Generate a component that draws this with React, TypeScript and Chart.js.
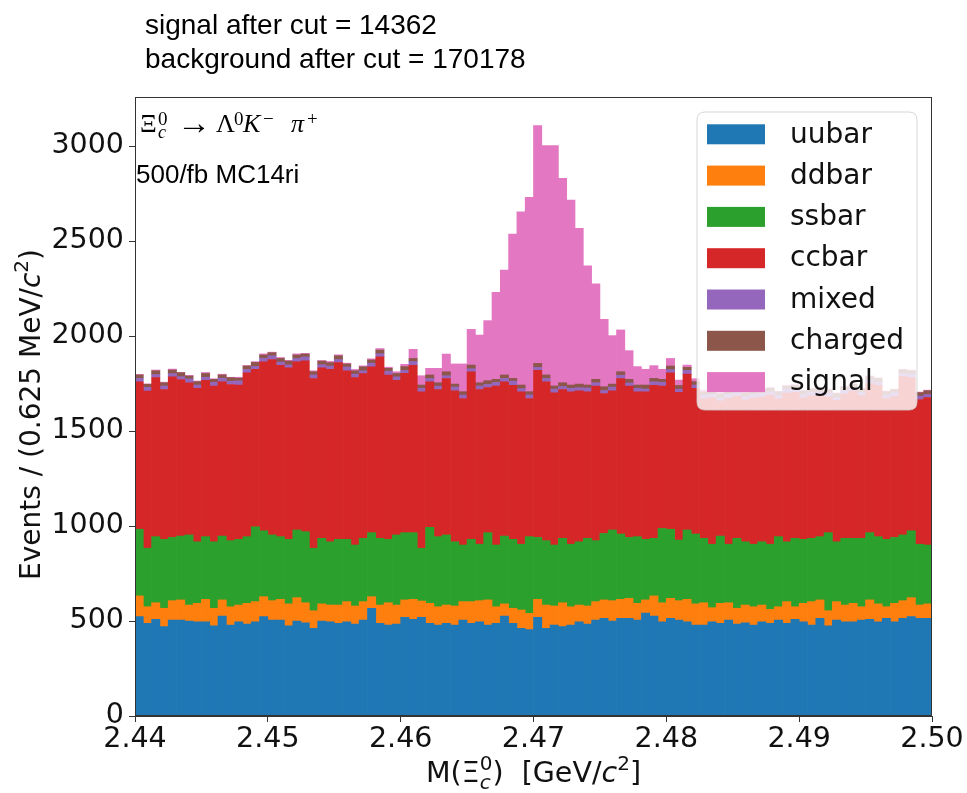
import { useEffect, useRef } from 'react';
import { Chart, registerables } from 'chart.js';

Chart.register(...registerables);

// Histogram binning: 96 bins of 0.625 MeV between 2.44 and 2.50 GeV
const BIN_LO = 2.44;
const BIN_HI = 2.5;
const N_BINS = 96;
const BIN_W = (BIN_HI - BIN_LO) / N_BINS;
const binCenters = Array.from({ length: N_BINS }, (_, i) => BIN_LO + (i + 0.5) * BIN_W);

const xTicks = [2.44, 2.45, 2.46, 2.47, 2.48, 2.49, 2.5];
const yTicks = [0, 500, 1000, 1500, 2000, 2500, 3000];
const Y_MAX = 3258;

const seriesNames = ['uubar', 'ddbar', 'ssbar', 'ccbar', 'mixed', 'charged', 'signal'];
const seriesColors = ['#1f77b4', '#ff7f0e', '#2ca02c', '#d62728', '#9467bd', '#8c564b', '#e377c2'];

const uubar = [
  523, 488, 509, 470, 505, 505, 500, 496, 496, 474,
  526, 479, 496, 484, 496, 523, 505, 505, 474, 500,
  491, 461, 500, 496, 488, 496, 484, 505, 567, 488,
  479, 484, 519, 509, 519, 488, 479, 488, 479, 505,
  488, 496, 479, 488, 526, 488, 461, 455, 519, 461,
  479, 470, 479, 496, 484, 505, 514, 500, 514, 514,
  505, 542, 526, 496, 514, 505, 496, 479, 479, 496,
  488, 505, 484, 491, 479, 496, 488, 505, 488, 509,
  496, 479, 514, 474, 505, 496, 496, 505, 509, 496,
  514, 496, 514, 523, 514, 514,
];
const ddbar = [
  109, 87, 87, 97, 102, 106, 84, 97, 118, 93,
  85, 96, 88, 109, 106, 105, 102, 109, 116, 123,
  105, 93, 90, 88, 96, 106, 95, 97, 61, 96,
  117, 100, 92, 105, 86, 105, 96, 96, 100, 97,
  114, 111, 132, 87, 64, 79, 97, 85, 95, 123,
  100, 126, 96, 88, 95, 97, 97, 107, 100, 105,
  88, 69, 106, 100, 105, 102, 118, 111, 117, 74,
  105, 91, 83, 93, 96, 88, 73, 70, 114, 66,
  97, 123, 97, 80, 97, 88, 97, 70, 102, 94,
  61, 97, 93, 100, 70, 76,
];
const ssbar = [
  351, 308, 348, 363, 333, 336, 369, 324, 330, 350,
  336, 348, 346, 351, 394, 347, 346, 330, 340, 356,
  374, 329, 345, 333, 346, 328, 321, 333, 337, 351,
  334, 369, 354, 351, 278, 400, 369, 369, 338, 298,
  328, 297, 354, 325, 357, 363, 346, 404, 326, 339,
  321, 339, 329, 333, 356, 321, 350, 372, 344, 321,
  351, 319, 303, 391, 364, 319, 365, 368, 339, 334,
  354, 308, 368, 333, 329, 333, 343, 369, 315, 360,
  337, 333, 333, 411, 315, 351, 342, 360, 354, 354,
  355, 347, 346, 352, 320, 310,
];
const ccbar = [
  776, 827, 837, 788, 845, 824, 800, 807, 823, 819,
  812, 822, 812, 862, 829, 889, 923, 902, 902, 885,
  899, 893, 897, 907, 930, 887, 881, 867, 873, 955,
  864, 814, 838, 881, 823, 766, 774, 823, 794, 771,
  881, 814, 764, 836, 812, 811, 802, 727, 880, 836,
  801, 783, 802, 794, 771, 813, 736, 732, 818, 796,
  762, 776, 806, 749, 823, 778, 820, 766, 734, 772,
  712, 768, 749, 747, 770, 762, 785, 726, 782, 769,
  745, 750, 746, 715, 744, 760, 775, 751, 785, 797,
  741, 741, 833, 806, 762, 776,
];
const mixed = [
  18, 20, 16, 19, 17, 15, 21, 18, 16, 20, 19, 17, 22, 18, 15, 19, 20, 17, 16, 18,
  21, 19, 17, 18, 16, 20, 18, 15, 19, 17, 21, 18, 16, 20, 19, 17, 18, 15, 21, 18,
  17, 19, 16, 20, 18, 22, 17, 19, 15, 18, 20, 16, 19, 17, 21, 18, 16, 20, 18, 17,
  19, 15, 18, 21, 17, 16, 20, 18, 19, 17, 15, 21, 18, 16, 20, 19, 17, 18, 22, 16,
  18, 19, 17, 20, 15, 18, 21, 17, 19, 16, 18, 20, 17, 19, 18, 16,
];
const charged = [
  18, 16, 20, 17, 19, 21, 15, 18, 20, 16, 17, 19, 14, 18, 21, 17, 16, 19, 20, 18,
  15, 17, 19, 18, 20, 16, 18, 21, 17, 19, 15, 18, 20, 16, 17, 19, 18, 21, 15, 18,
  19, 17, 20, 16, 18, 14, 19, 17, 21, 18, 16, 20, 17, 19, 15, 18, 20, 16, 18, 19,
  17, 21, 18, 15, 19, 20, 16, 18, 17, 19, 21, 15, 18, 20, 16, 17, 19, 18, 14, 20,
  18, 17, 19, 16, 21, 18, 15, 19, 17, 20, 18, 16, 19, 17, 18, 20,
];
const signal = [
  3, 2, 4, 3, 5, 2, 4, 3, 5, 3,
  4, 2, 5, 3, 4, 6, 3, 5, 4, 6,
  4, 5, 3, 6, 5, 4, 7, 5, 6, 8,
  6, 9, 12, 48, 49, 35, 76, 93, 106, 146,
  188, 251, 316, 458, 552, 760, 912, 1023, 1251, 1207,
  1265, 1076, 974, 820, 628, 502, 355, 255, 220, 151,
  97, 83, 67, 53, 40, 28, 12, 15, 10, 8,
  7, 6, 5, 6, 4, 5, 4, 3, 5, 4,
  3, 4, 3, 4, 3, 4, 3, 3, 4, 3,
  3, 3, 3, 3, 3, 3,
];
const seriesValues = [uubar, ddbar, ssbar, ccbar, mixed, charged, signal];

const infoLines = ['signal after cut = 14362', 'background after cut = 170178'];
const sampleLabel = '500/fb MC14ri';

type Piece = { t: string; font: string; dy?: number; stack?: boolean };

function layoutRun(ctx: CanvasRenderingContext2D, pieces: Piece[]) {
  let x = 0;
  let stackW = 0;
  const pos: number[] = [];
  for (const p of pieces) {
    ctx.font = p.font;
    const w = ctx.measureText(p.t).width;
    pos.push(x);
    if (p.stack) {
      stackW = w;
    } else {
      x += Math.max(w, stackW);
      stackW = 0;
    }
  }
  return { pos, width: x };
}

function drawRun(ctx: CanvasRenderingContext2D, pieces: Piece[], x0: number, y0: number, align: 'left' | 'center') {
  const { pos, width } = layoutRun(ctx, pieces);
  const start = align === 'center' ? x0 - width / 2 : x0;
  ctx.textAlign = 'left';
  ctx.textBaseline = 'alphabetic';
  pieces.forEach((p, i) => {
    ctx.font = p.font;
    ctx.fillText(p.t, start + pos[i], y0 + (p.dy || 0));
  });
}

const SANS = "'DejaVu Sans', sans-serif";
const SERIF = "'Liberation Serif', 'DejaVu Serif', serif";
const ARIAL = "'Liberation Sans', Arial, sans-serif";

// Decay formula glyphs, offsets relative to the upper-left corner of the axes
const formulaPieces = [
  { t: 'Ξ', font: `26px ${SERIF}`, dx: 5, dy: 35 },
  { t: 'c', font: `italic 18px ${SERIF}`, dx: 23, dy: 41 },
  { t: '0', font: `19px ${SERIF}`, dx: 23, dy: 28 },
  { t: '→', font: `34px ${SERIF}`, dx: 42, dy: 37 },
  { t: 'Λ', font: `26px ${SERIF}`, dx: 81, dy: 35 },
  { t: '0', font: `19px ${SERIF}`, dx: 99, dy: 28 },
  { t: 'K', font: `italic 26px ${SERIF}`, dx: 108, dy: 35 },
  { t: '−', font: `19px ${SERIF}`, dx: 128, dy: 28 },
  { t: 'π', font: `italic 26px ${SERIF}`, dx: 156, dy: 35 },
  { t: '+', font: `19px ${SERIF}`, dx: 172, dy: 28 },
];

const overlayPlugin = {
  id: 'overlay',
  afterDatasetsDraw(chart: any) {
    const ctx: CanvasRenderingContext2D = chart.ctx;
    const a = chart.chartArea;
    ctx.save();

    // axes frame
    ctx.strokeStyle = '#333';
    ctx.lineWidth = 1;
    ctx.strokeRect(Math.round(a.left) + 0.5, Math.round(a.top) + 0.5, Math.round(a.right - a.left) - 1, Math.round(a.bottom - a.top) - 1);

    ctx.fillStyle = '#000';
    ctx.textAlign = 'left';
    ctx.textBaseline = 'alphabetic';
    formulaPieces.forEach((p) => {
      ctx.font = p.font;
      ctx.fillText(p.t, a.left + p.dx, a.top + p.dy);
    });

    ctx.font = `26px ${ARIAL}`;
    ctx.fillText(sampleLabel, a.left + 1, a.top + 86);

    // legend
    const lx = 697, ly = 112, lw = 220, lh = 298, r = 8;
    ctx.beginPath();
    ctx.moveTo(lx + r, ly);
    ctx.lineTo(lx + lw - r, ly);
    ctx.quadraticCurveTo(lx + lw, ly, lx + lw, ly + r);
    ctx.lineTo(lx + lw, ly + lh - r);
    ctx.quadraticCurveTo(lx + lw, ly + lh, lx + lw - r, ly + lh);
    ctx.lineTo(lx + r, ly + lh);
    ctx.quadraticCurveTo(lx, ly + lh, lx, ly + lh - r);
    ctx.lineTo(lx, ly + r);
    ctx.quadraticCurveTo(lx, ly, lx + r, ly);
    ctx.closePath();
    ctx.fillStyle = 'rgba(255,255,255,0.8)';
    ctx.fill();
    ctx.strokeStyle = 'rgba(204,204,204,0.8)';
    ctx.lineWidth = 1;
    ctx.stroke();

    ctx.font = `28px ${SANS}`;
    ctx.textBaseline = 'middle';
    seriesNames.forEach((name, i) => {
      const cy = 134.3 + i * 41.3;
      ctx.fillStyle = seriesColors[i];
      ctx.fillRect(707, cy - 10, 58, 20);
      ctx.fillStyle = '#111';
      ctx.fillText(name, 790, cy + 1);
    });

    // axis titles
    ctx.fillStyle = '#111';
    const xTitle: Piece[] = [
      { t: 'M(', font: `28.5px ${SANS}` },
      { t: 'Ξ', font: `28.5px ${SANS}` },
      { t: 'c', font: `italic 20px ${SANS}`, dy: 7, stack: true },
      { t: '0', font: `20px ${SANS}`, dy: -12 },
      { t: ')  [GeV/', font: `28.5px ${SANS}` },
      { t: 'c', font: `italic 28.5px ${SANS}` },
      { t: '2', font: `20px ${SANS}`, dy: -12 },
      { t: ']', font: `28.5px ${SANS}` },
    ];
    drawRun(ctx, xTitle, (a.left + a.right) / 2, 782, 'center');

    const yTitle: Piece[] = [
      { t: 'Events / (0.625 MeV/', font: `28px ${SANS}` },
      { t: 'c', font: `italic 28px ${SANS}` },
      { t: '2', font: `20px ${SANS}`, dy: -12 },
      { t: ')', font: `28px ${SANS}` },
    ];
    ctx.save();
    ctx.translate(40, (a.top + a.bottom) / 2 + 8);
    ctx.rotate(-Math.PI / 2);
    drawRun(ctx, yTitle, 0, 0, 'center');
    ctx.restore();

    // info text above the plot
    ctx.fillStyle = '#000';
    ctx.font = `28px ${ARIAL}`;
    ctx.textAlign = 'left';
    ctx.textBaseline = 'alphabetic';
    infoLines.forEach((line, i) => ctx.fillText(line, 145, 34 + i * 34));

    ctx.restore();
  },
};

export default function App() {
  const canvasRef = useRef<HTMLCanvasElement | null>(null);

  useEffect(() => {
    const canvas = canvasRef.current;
    if (!canvas) return;
    const datasets = seriesNames.map((name, k) => ({
      label: name,
      data: binCenters.map((x, i) => ({ x, y: seriesValues[k][i] })),
      backgroundColor: seriesColors[k],
      borderWidth: 0,
      barPercentage: 1,
      categoryPercentage: 1,
    }));
    const tickFont = { family: 'DejaVu Sans', size: 28.5 };
    const chart = new Chart(canvas, {
      type: 'bar',
      data: { datasets } as any,
      plugins: [overlayPlugin],
      options: {
        responsive: false,
        animation: false,
        devicePixelRatio: 1,
        layout: { padding: { top: 97, right: 35, left: 0, bottom: 0 } },
        plugins: { legend: { display: false }, tooltip: { enabled: false }, title: { display: false } },
        scales: {
          x: {
            type: 'linear',
            min: BIN_LO,
            max: BIN_HI,
            stacked: true,
            offset: false,
            afterFit: (s: any) => { s.height = 77; },
            afterBuildTicks: (s: any) => { s.ticks = xTicks.map((v) => ({ value: v })); },
            ticks: {
              callback: (v: any) => Number(v).toFixed(2),
              font: tickFont,
              color: '#111',
              padding: 0,
              maxRotation: 0,
              autoSkip: false,
            },
            grid: { offset: false, drawOnChartArea: false, drawTicks: true, tickLength: 6, color: '#333', lineWidth: 1 },
            border: { display: true, color: '#333', width: 1 },
          },
          y: {
            min: 0,
            max: Y_MAX,
            stacked: true,
            afterFit: (s: any) => { s.width = 135; },
            afterBuildTicks: (s: any) => { s.ticks = yTicks.map((v) => ({ value: v })); },
            ticks: { callback: (v: any) => String(v), font: tickFont, color: '#111', padding: 5, autoSkip: false },
            grid: { drawOnChartArea: false, drawTicks: true, tickLength: 6, color: '#333', lineWidth: 1 },
            border: { display: true, color: '#333', width: 1 },
          },
        },
      } as any,
    });
    return () => chart.destroy();
  }, []);

  return (
    <div style={{ position: 'absolute', left: 0, top: 0, width: 967, height: 793, background: '#fff' }}>
      <canvas ref={canvasRef} width={967} height={793} style={{ width: 967, height: 793, display: 'block' }} />
    </div>
  );
}
